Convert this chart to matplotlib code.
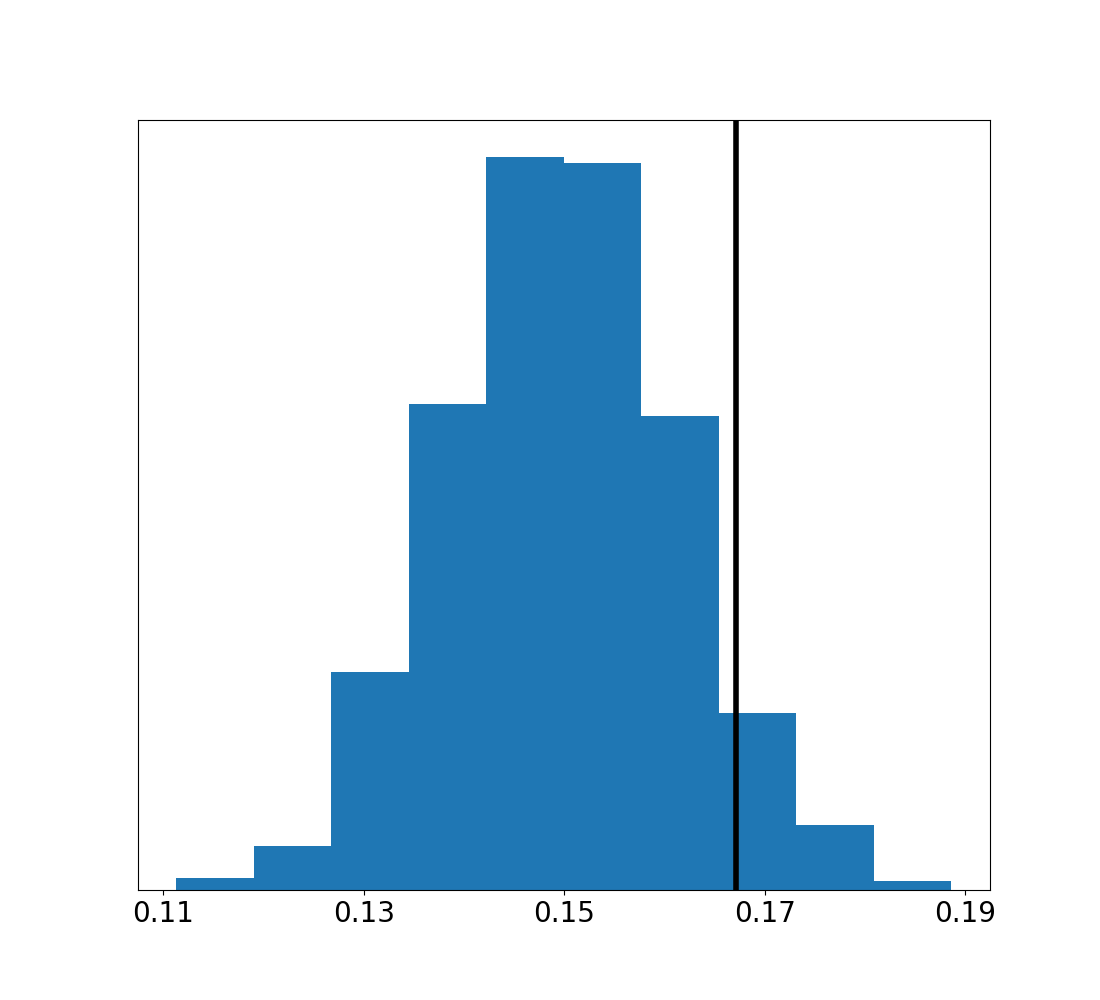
import numpy as np
import matplotlib
matplotlib.use('Agg')
import matplotlib.pyplot as plt

# histogram: 10 bins, counts per bin
bin_edges = np.linspace(0.1113, 0.1886, 11)
counts = [4, 15, 74, 165, 249, 247, 161, 60, 22, 3]
observed = 0.1671

fig, ax = plt.subplots(figsize=(11, 10), dpi=100)

ax.hist(bin_edges[:-1], bins=bin_edges, weights=counts, color='#1f77b4')
ax.axvline(observed, color='black', linewidth=4)

ax.set_xticks([0.11, 0.13, 0.15, 0.17, 0.19])
ax.set_xticklabels(['0.11', '0.13', '0.15', '0.17', '0.19'])
ax.tick_params(axis='x', labelsize=20)
ax.set_yticks([])

plt.savefig('out.png')
